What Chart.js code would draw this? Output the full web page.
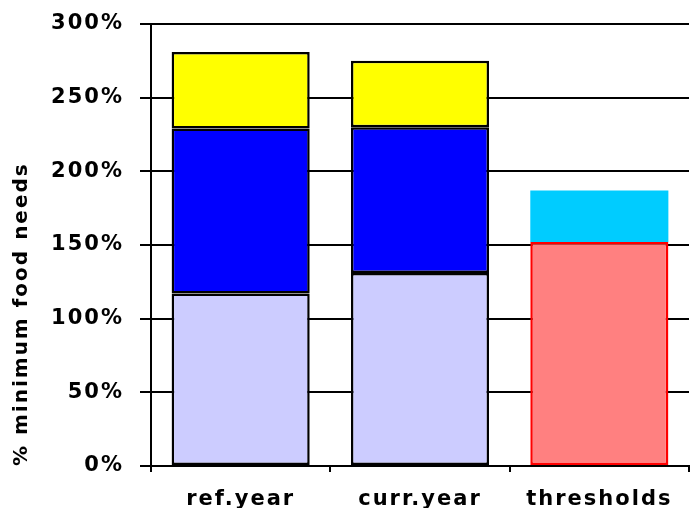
<!DOCTYPE html>
<html>
<head>
<meta charset="utf-8">
<script src="https://cdn.jsdelivr.net/npm/chart.js@4"></script>
<style>
  html, body { margin: 0; padding: 0; background: #fff; }
  #wrap { width: 690px; height: 508px; }
</style>
</head>
<body>
<div id="wrap"><canvas id="chart" width="690" height="508"></canvas></div>
<script>
const categories = ['ref.year', 'curr.year', 'thresholds'];
// stacked segments, bottom to top (% of minimum food needs)
const baseValues = [117, 131, 152];
const midValues  = [112, 99, 35];
const topValues  = [52, 45, null];
const yTicks = [0, 50, 100, 150, 200, 250, 300];

const FONT = "'DejaVu Sans', Verdana, sans-serif";

// old Excel export: glyphs are drawn wide, so space the letters out a bit
const spacingPlugin = {
  id: 'spacing',
  beforeDraw: (chart) => { chart.ctx.letterSpacing = '2px'; },
};

new Chart(document.getElementById('chart'), {
  type: 'bar',
  data: {
    labels: categories,
    datasets: [
      {
        data: baseValues,
        backgroundColor: ['#CCCCFF', '#CCCCFF', '#FF8080'],
        borderColor: ['#000000', '#000000', '#FF0000'],
        borderWidth: 2.5,
      },
      {
        data: midValues,
        backgroundColor: ['#0000FF', '#0000FF', '#00CCFF'],
        borderColor: ['#000000', '#000000', '#00CCFF'],
        borderWidth: [2.5, 2.5, 0],
      },
      {
        data: topValues,
        backgroundColor: '#FFFF00',
        borderColor: '#000000',
        borderWidth: 2.5,
      },
    ],
  },
  options: {
    responsive: false,
    animation: false,
    layout: { padding: { top: 24, right: 1, left: 0, bottom: 0 } },
    datasets: {
      bar: { categoryPercentage: 1, barPercentage: 0.77, borderSkipped: false },
    },
    scales: {
      x: {
        stacked: true,
        afterFit: (s) => { s.height = 42; s.paddingLeft = 0; s.paddingRight = 0; },
        grid: { drawOnChartArea: false, offset: true, color: '#000', lineWidth: 2, tickLength: 6 },
        border: { color: '#000', width: 2 },
        ticks: { color: '#000', padding: 15, font: { family: FONT, size: 21, weight: 'bold' } },
      },
      y: {
        stacked: true,
        min: 0,
        max: 300,
        afterFit: (s) => { s.width = 151; s.paddingTop = 0; s.paddingBottom = 0; },
        afterBuildTicks: (s) => { s.ticks = yTicks.map(v => ({ value: v })); },
        grid: { color: '#000', lineWidth: 2, tickLength: 11 },
        border: { color: '#000', width: 2 },
        ticks: {
          color: '#000',
          padding: 16,
          font: { family: FONT, size: 21, weight: 'bold' },
          callback: (v) => v + '%',
        },
        title: {
          display: true,
          text: '% minimum food needs',
          align: 'start',
          color: '#000',
          padding: { top: 10, bottom: 0 },
          font: { family: FONT, size: 20, weight: 'bold' },
        },
      },
    },
    plugins: {
      legend: { display: false },
      tooltip: { enabled: false },
    },
  },
  plugins: [spacingPlugin],
});
</script>
</body>
</html>
